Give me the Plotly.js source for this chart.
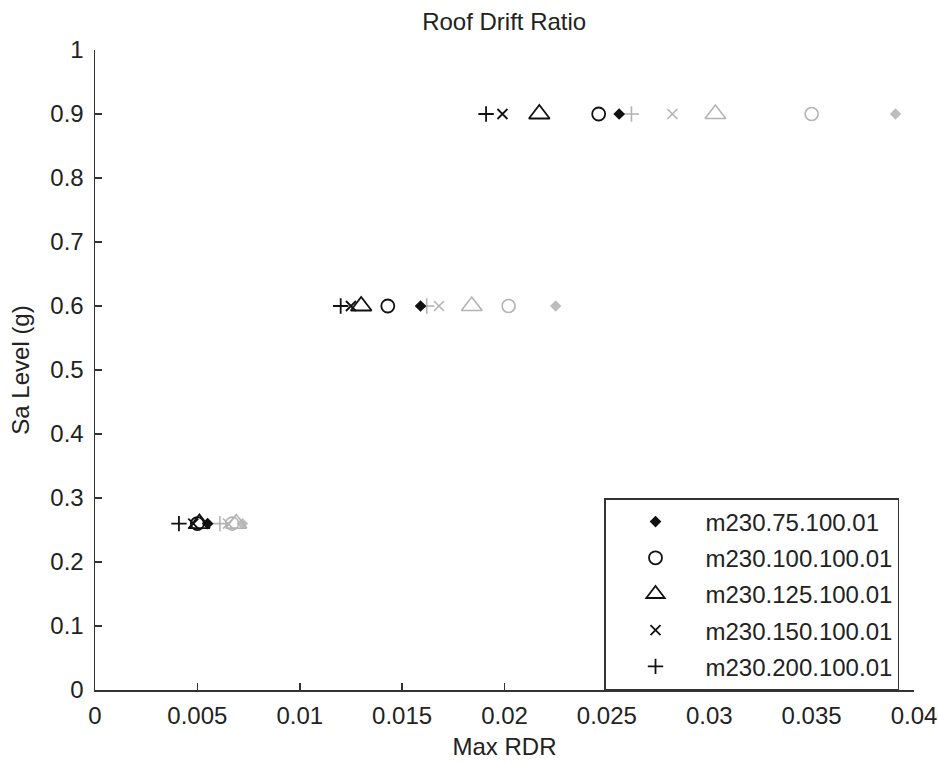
<!DOCTYPE html>
<html>
<head>
<meta charset="utf-8">
<script src="https://cdn.plot.ly/plotly-3.0.1.min.js"></script>
<style>html,body{margin:0;padding:0;background:#fff;}#chart{width:938px;height:763px;}</style>
</head>
<body>
<div id="chart"></div>
<script>
// Sa levels (g)
const saLevels = [0.26, 0.6, 0.9];

// Series names
const names = ["m230.75.100.01", "m230.100.100.01", "m230.125.100.01", "m230.150.100.01", "m230.200.100.01"];

// Black series (Max RDR at each Sa level)
const black75  = [0.0055, 0.0159, 0.0256];
const black100 = [0.0050, 0.0143, 0.0246];
const black125 = [0.0051, 0.0130, 0.0217];
const black150 = [0.0048, 0.0125, 0.0199];
const black200 = [0.0041, 0.0120, 0.0191];

// Gray series (same models, second set)
const gray75  = [0.0072, 0.0225, 0.0391];
const gray100 = [0.0067, 0.0202, 0.0350];
const gray125 = [0.0069, 0.0184, 0.0303];
const gray150 = [0.0065, 0.0168, 0.0282];
const gray200 = [0.0061, 0.0162, 0.0262];

const blackVals = [black75, black100, black125, black150, black200];
const grayVals  = [gray75, gray100, gray125, gray150, gray200];

const symbols = ["diamond", "circle-open", "triangle-up-open", "x-thin-open", "cross-thin-open"];
const sizes   = [7, 13, 18, 10, 11];

const traces = [];
grayVals.forEach((v, i) => {
  traces.push({
    x: v, y: saLevels, type: "scatter", mode: "markers", name: names[i],
    showlegend: false, hoverinfo: "x+y", legendgroup: "h" + i,
    marker: {symbol: symbols[i], size: sizes[i], color: i === 0 ? "#bdbdbd" : "#b3b3b3",
             line: {color: i === 0 ? "#bdbdbd" : "#b3b3b3", width: 1.6}}
  });
});
blackVals.forEach((v, i) => {
  traces.push({
    x: v, y: saLevels, type: "scatter", mode: "markers", name: names[i],
    legendgroup: "g" + i,
    marker: {symbol: symbols[i], size: sizes[i], color: "#111",
             line: {color: "#111", width: 1.8}}
  });
});

const fontFam = "Liberation Sans, Arial, sans-serif";
const layout = {
  width: 938, height: 763,
  margin: {l: 95, r: 24, t: 50, b: 73, pad: 0},
  paper_bgcolor: "#fff", plot_bgcolor: "#fff",
  font: {family: fontFam, size: 24, color: "#222"},
  title: {text: "Roof Drift Ratio", font: {family: fontFam, size: 24, color: "#222"},
          x: 0.5375, xanchor: "center", y: 0.972, yanchor: "middle"},
  xaxis: {
    range: [0, 0.04], dtick: 0.005, tick0: 0, showgrid: false, zeroline: false,
    showline: true, linecolor: "#333", linewidth: 1.5, mirror: false,
    ticks: "inside", ticklen: 7, tickcolor: "#333", tickwidth: 1.5,
    ticklabelstandoff: 4,
    tickfont: {family: fontFam, size: 24, color: "#222"},
    title: {text: "Max RDR", font: {family: fontFam, size: 24, color: "#222"}, standoff: 10}
  },
  yaxis: {
    range: [0, 1], dtick: 0.1, tick0: 0, showgrid: false, zeroline: false,
    showline: true, linecolor: "#333", linewidth: 1.5, mirror: false,
    ticks: "inside", ticklen: 7, tickcolor: "#333", tickwidth: 1.5,
    ticklabelstandoff: 5,
    tickfont: {family: fontFam, size: 24, color: "#222"},
    title: {text: "Sa Level (g)", font: {family: fontFam, size: 24, color: "#222"}, standoff: 14}
  },
  legend: {
    x: 0.6215, y: 0.300, xanchor: "left", yanchor: "top",
    bgcolor: "#fff", bordercolor: "#333", borderwidth: 1.5,
    font: {family: fontFam, size: 24, color: "#222"},
    itemwidth: 90, tracegroupgap: 2, traceorder: "grouped",
    itemclick: false, itemdoubleclick: false
  },
  showlegend: true
};

Plotly.newPlot("chart", traces, layout, {displayModeBar: false, staticPlot: true});
</script>
</body>
</html>
